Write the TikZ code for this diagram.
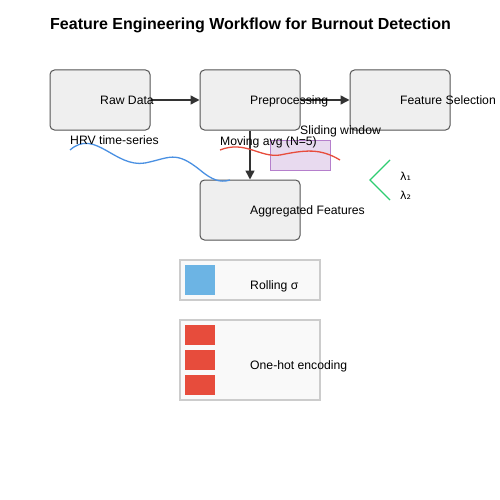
\documentclass[tikz,border=0pt]{standalone}
\usepackage{fontspec}
\setmainfont{Liberation Sans}
\newfontfamily\symfont{DejaVu Sans}
\usetikzlibrary{arrows.meta}
\definecolor{boxfill}{HTML}{EFEFEF}
\definecolor{boxline}{HTML}{555555}
\definecolor{arrowc}{HTML}{333333}
\definecolor{panelfill}{HTML}{F9F9F9}
\definecolor{panelline}{HTML}{CCCCCC}
\definecolor{bluec}{HTML}{4A90E2}
\definecolor{redc}{HTML}{E74C3C}
\definecolor{sqblue}{HTML}{6CB4E4}
\definecolor{purfill}{HTML}{E8DAEF}
\definecolor{purline}{HTML}{B57FCC}
\definecolor{greenc}{HTML}{2ECC71}
\tikzset{
  stagebox/.style={draw=boxline, fill=boxfill, line width=1pt, rounded corners=4.5pt, minimum width=100pt, minimum height=60pt, inner sep=0pt},
  lbl/.style={anchor=base west, inner sep=0pt, font=\fontsize{12.2}{14}\selectfont, text=black},
  flow/.style={draw=arrowc, line width=1.5pt, -{Triangle[length=9pt,width=9pt]}},
  panel/.style={draw=panelline, fill=panelfill, line width=1.2pt, inner sep=0pt},
}
\begin{document}
\begin{tikzpicture}[x=1pt,y=-1pt]
\useasboundingbox (0,0) rectangle (500,500);
\node[font=\bfseries\fontsize{16}{19}\selectfont, anchor=base] (title) at (250.5,30) {Feature Engineering Workflow for Burnout Detection};
% stage boxes
\node[stagebox] (raw) at (100,100) {};
\node[stagebox] (pre) at (250,100) {};
\node[stagebox] (fsel) at (400,100) {};
\node[stagebox] (agg) at (250,210) {};
% arrows
\draw[flow] (raw.east) -- (pre.west);
\draw[flow] (pre.east) -- (fsel.west);
\draw[flow] (pre.south) -- (agg.north);
% box labels
\node[lbl] (rawt) at (100,104.5) {Raw Data};
\node[lbl] (pret) at (250,104.5) {Preprocessing};
\node[lbl] (fselt) at (400,104.5) {Feature Selection};
\node[lbl] (aggt) at (250,214.5) {Aggregated Features};
% sliding window
\node[draw=purline, fill=purfill, line width=1pt, minimum width=60pt, minimum height=30pt, inner sep=0pt] (win) at (300,155) {};
% waves
\draw[bluec, line width=1.3pt] (70,150) .. controls (95,128) and (115,168) .. (145,163) .. controls (170,158) and (175,150) .. (200,170) .. controls (212,180) and (220,183) .. (230,180);
\draw[redc, line width=1.3pt] (220,150) .. controls (245,140) and (260,158) .. (280,155) .. controls (305,150) and (320,148) .. (340,160);
% annotations
\node[lbl] (hrv) at (70,144.5) {HRV time-series};
\node[lbl] (mavg) at (220,145) {Moving avg (N=5)};
\node[lbl] (slid) at (300,134.5) {Sliding window};
% chevron
\coordinate (cha) at (390,160);
\coordinate (chb) at (370,180);
\coordinate (chc) at (390,200);
\draw[greenc, line width=1.3pt] (cha) -- (chb) -- (chc);
\node[lbl, font=\symfont\fontsize{11}{13}\selectfont] (l1) at (400,180) {λ₁};
\node[lbl, font=\symfont\fontsize{11}{13}\selectfont] (l2) at (400,199) {λ₂};
% rolling sigma panel
\node[panel, minimum width=140pt, minimum height=40pt] (rollp) at (250,280) {};
\node[fill=sqblue, minimum size=30pt, inner sep=0pt] (rsq) at (200,280) {};
\node[lbl] (rollt) at (250,289.5) {Rolling σ};
% one-hot panel
\node[panel, minimum width=140pt, minimum height=80pt] (ohp) at (250,360) {};
\node[fill=redc, minimum width=30pt, minimum height=20pt, inner sep=0pt] (oh1) at (200,335) {};
\node[fill=redc, minimum width=30pt, minimum height=20pt, inner sep=0pt] (oh2) at (200,360) {};
\node[fill=redc, minimum width=30pt, minimum height=20pt, inner sep=0pt] (oh3) at (200,385) {};
\node[lbl] (oht) at (250,369.5) {One-hot encoding};
\end{tikzpicture}
\end{document}
